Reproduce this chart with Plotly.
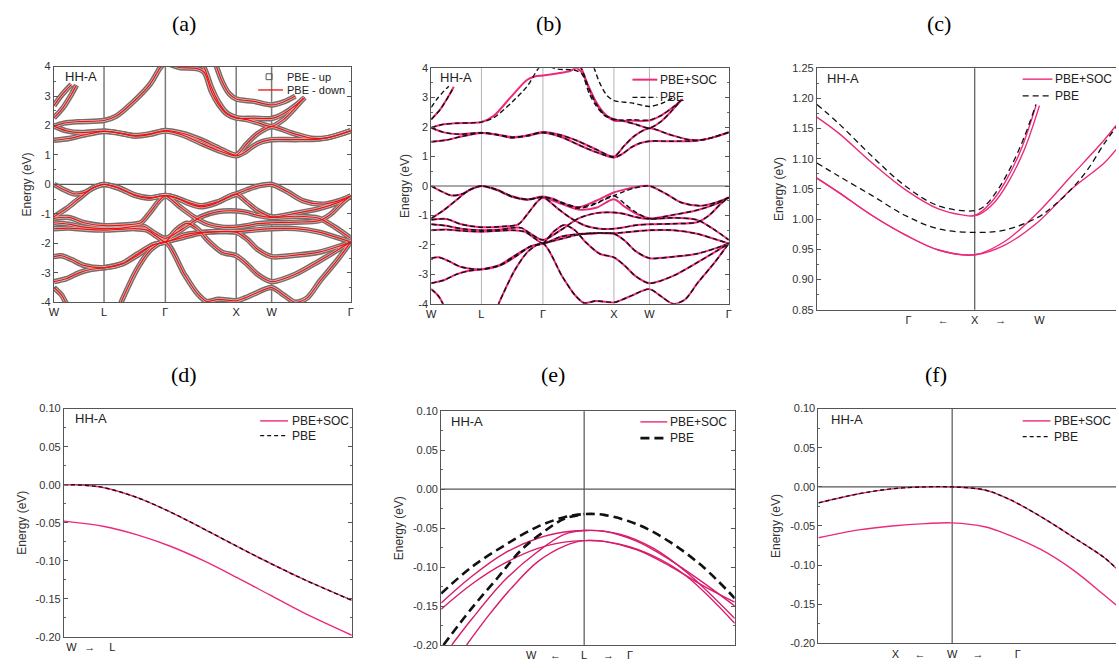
import plotly.graph_objects as go

FIG_W, FIG_H = 1119, 668

# ---------------- data ----------------
# k-path W-L-Γ-X-W-Γ (segment lengths in 2π/a)
seg_len = [0.707, 0.866, 1.0, 0.5, 1.118]
sym_labels = ["W", "L", "Γ", "X", "W", "Γ"]
sym_s = [0, 1, 2, 3, 4, 5]

# bands as (path coordinate s, energy eV); s: W=0, L=1, Γ=2, X=3, W=4, Γ=5
c1 = [(0, 1.50), (0.3, 1.56), (0.6, 1.68), (1, 1.80), (1.25, 1.74), (1.5, 1.64), (1.75, 1.70), (2, 1.81),
      (2.25, 1.67), (2.5, 1.40), (2.75, 1.15), (3, 0.97), (3.25, 1.10), (3.5, 1.32), (3.75, 1.46), (4, 1.52),
      (4.3, 1.52), (4.6, 1.54), (4.8, 1.65), (5, 1.82)]
c2 = [(0, 1.98), (0.25, 1.82), (0.55, 1.76), (1, 1.81), (1.25, 1.75), (1.5, 1.66), (1.75, 1.72), (2, 1.83),
      (2.25, 1.73), (2.5, 1.52), (2.75, 1.24), (3, 1.00), (3.3, 1.38), (3.6, 1.72), (4, 1.96), (4.25, 1.75),
      (4.5, 1.57), (4.7, 1.58), (5, 1.83)]
c3 = [(0, 1.98), (0.2, 2.08), (0.5, 2.13), (1, 2.17), (1.2, 2.32), (1.5, 2.85), (1.75, 3.40), (1.93, 4.0),
      (2, 4.1), (2.2, 3.97), (2.45, 3.93), (2.55, 3.8), (2.65, 3.15), (2.75, 2.72), (2.87, 2.39), (3, 2.25),
      (3.5, 2.25), (4, 2.24), (4.15, 2.4), (4.3, 2.68), (4.42, 2.95)]
c4 = [(2.45, 4.3), (2.55, 3.95), (2.65, 3.3), (2.75, 2.8), (2.87, 2.42), (3, 2.27), (3.3, 2.2), (3.65, 2.08),
      (4, 1.97), (4.15, 2.2), (4.28, 2.55), (4.4, 2.92)]
c5 = [(0, 2.67), (0.11, 2.94), (0.25, 3.22), (0.35, 3.39), (None, None),
      (2.68, 4.3), (2.8, 3.5), (2.9, 3.08), (3, 2.9), (3.5, 2.82), (4, 2.70), (4.15, 2.8), (4.3, 3.0)]
c6 = [(0, 2.26), (0.18, 2.6), (0.35, 3.06), (0.45, 3.37)]

v1 = [(0, 0.0), (0.2, -0.18), (0.4, -0.32), (0.6, -0.28), (0.8, -0.10), (1, 0.0), (1.25, -0.12), (1.5, -0.35),
      (1.75, -0.45), (2, -0.38), (2.15, -0.45), (2.3, -0.62), (2.5, -0.76), (2.7, -0.65), (2.85, -0.48),
      (3, -0.33), (3.3, -0.18), (3.6, -0.06), (4, 0.0), (4.2, -0.25), (4.4, -0.56), (4.65, -0.67),
      (4.85, -0.55), (5, -0.39)]
v2 = [(0, -1.10), (0.25, -0.82), (0.5, -0.48), (0.75, -0.15), (1, 0.0), (1.25, -0.14), (1.5, -0.37),
      (1.75, -0.47), (2, -0.38), (2.2, -0.75), (2.4, -1.10), (2.6, -1.35), (2.8, -1.45), (3, -1.45),
      (3.3, -1.40), (3.6, -1.33), (4, -1.30), (4.3, -1.28), (4.6, -1.23), (4.75, -1.0), (4.9, -0.6), (5, -0.39)]
v3 = [(0, -1.15), (0.3, -1.12), (0.6, -1.30), (1, -1.40), (1.3, -1.38), (1.6, -1.30), (1.75, -0.95),
      (1.9, -0.55), (2, -0.38), (2.2, -0.50), (2.5, -0.72), (2.75, -0.58), (3, -0.33), (3.3, -0.60),
      (3.6, -0.88), (4, -1.10), (4.3, -0.98), (4.6, -0.82), (4.85, -0.60), (5, -0.39)]
v4 = [(0, -1.30), (0.3, -1.35), (0.6, -1.45), (1, -1.50), (1.3, -1.48), (1.5, -1.42), (1.65, -1.42),
      (1.8, -1.62), (2, -1.83), (2.25, -1.50), (2.5, -1.10), (2.75, -0.92), (3, -0.90), (3.3, -0.95),
      (3.6, -1.05), (4, -1.12), (4.3, -1.08), (4.6, -1.15), (4.8, -1.45), (5, -1.83)]
v5 = [(0, -1.50), (0.3, -1.48), (0.6, -1.52), (1, -1.55), (1.3, -1.52), (1.5, -1.50), (1.7, -1.55),
      (1.85, -1.75), (2, -1.95), (2.25, -1.72), (2.5, -1.63), (2.75, -1.60), (3, -1.60), (3.5, -1.55),
      (4, -1.50), (4.3, -1.50), (4.6, -1.62), (4.8, -1.78), (5, -1.95)]
v6 = [(0, -2.45), (0.15, -2.42), (0.35, -2.55), (0.6, -2.75), (1, -2.83), (1.3, -2.70), (1.55, -2.40),
      (1.8, -2.05), (2, -1.95), (2.15, -1.55), (2.3, -1.32), (2.45, -1.50), (2.6, -1.90), (2.8, -2.30),
      (3, -2.42), (3.3, -2.70), (3.6, -3.05), (4, -3.30), (4.3, -3.05), (4.6, -2.60), (4.85, -2.20), (5, -1.95)]
v7 = [(0, -3.30), (0.25, -3.20), (0.5, -3.00), (0.75, -2.88), (1, -2.83), (1.3, -2.68), (1.55, -2.35),
      (1.8, -2.05), (2, -1.95), (2.25, -1.80), (2.5, -1.65), (2.75, -1.60), (3, -1.62), (3.3, -1.85),
      (3.6, -2.20), (4, -2.45), (4.3, -2.40), (4.6, -2.30), (4.85, -2.10), (5, -1.95)]
v8 = [(0, -3.50), (0.15, -3.75), (0.3, -4.2), (0.7, -5.0), (1.0, -5.0), (1.2, -4.4), (1.3, -3.9),
      (1.55, -2.83), (1.77, -2.20), (2, -1.95), (2.27, -3.06), (2.45, -3.70), (2.58, -3.97), (2.75, -3.90),
      (3, -3.95), (3.25, -3.85), (3.5, -3.72), (4, -3.50), (4.15, -3.75), (4.3, -4.0), (4.45, -3.85),
      (4.61, -3.28), (4.82, -2.60), (5, -1.95)]

# PBE+SOC bands that visibly differ from PBE in panel (b)
c3_soc = [(0, 1.98), (0.2, 2.08), (0.5, 2.13), (1, 2.17), (1.2, 2.38), (1.47, 3.0), (1.74, 3.6), (1.87, 3.72),
          (2, 3.75), (2.2, 3.82), (2.38, 3.9), (2.47, 4.0), (2.55, 3.85), (2.63, 3.45), (2.75, 2.85),
          (2.87, 2.45), (3, 2.22), (3.5, 2.22), (4, 2.22), (4.15, 2.4), (4.3, 2.68), (4.42, 2.95)]
v1_soc = [(0, 0.0), (0.2, -0.18), (0.4, -0.32), (0.6, -0.28), (0.8, -0.10), (1, 0.0), (1.25, -0.12),
          (1.5, -0.35), (1.75, -0.45), (2, -0.36), (2.15, -0.44), (2.3, -0.60), (2.5, -0.72), (2.75, -0.50),
          (3, -0.22), (3.3, -0.12), (3.6, -0.04), (4, 0.0), (4.2, -0.25), (4.4, -0.56), (4.65, -0.67),
          (4.85, -0.55), (5, -0.39)]
v3_soc = [(0, -1.15), (0.3, -1.12), (0.6, -1.30), (1, -1.40), (1.3, -1.38), (1.6, -1.30), (1.75, -0.95),
          (1.9, -0.55), (2, -0.40), (2.2, -0.55), (2.5, -0.80), (2.75, -0.74), (3, -0.45), (3.3, -0.70),
          (3.6, -0.92), (4, -1.10), (4.3, -0.98), (4.6, -0.82), (4.85, -0.60), (5, -0.39)]

# panel (c): conduction-band minimum near X (k: X = 0, Γ side negative)
c_pbe_hi_k = [-1.0, -0.86, -0.65, -0.44, -0.23, 0.0, 0.063, 0.147, 0.23, 0.314, 0.388]
c_pbe_hi_E = [1.19, 1.158, 1.104, 1.055, 1.022, 1.014, 1.022, 1.049, 1.087, 1.136, 1.19]
c_pbe_lo_k = [-1.0, -0.86, -0.65, -0.44, -0.23, 0.0, 0.19, 0.40, 0.50, 0.61, 0.715, 0.82, 0.895]
c_pbe_lo_E = [1.093, 1.071, 1.039, 1.006, 0.984, 0.978, 0.982, 1.003, 1.022, 1.049, 1.082, 1.125, 1.152]
c_soc_hi_k = [-1.0, -0.86, -0.65, -0.44, -0.23, -0.08, 0.0, 0.105, 0.19, 0.293, 0.388]
c_soc_hi_E = [1.169, 1.142, 1.093, 1.049, 1.017, 1.007, 1.006, 1.028, 1.06, 1.115, 1.188]
c_soc_hi2_k = [0.0, 0.03, 0.126, 0.21, 0.314, 0.41]
c_soc_hi2_E = [1.006, 1.008, 1.028, 1.06, 1.115, 1.188]
c_soc_lo_k = [-1.0, -0.86, -0.65, -0.44, -0.23, 0.0, 0.19, 0.40, 0.61, 0.82, 0.895]
c_soc_lo_E = [1.068, 1.044, 1.006, 0.974, 0.949, 0.941, 0.963, 1.011, 1.071, 1.131, 1.155]
c_soc_lo2_E = [1.068, 1.044, 1.006, 0.974, 0.949, 0.941, 0.957, 0.995, 1.049, 1.093, 1.115]

# panel (d): W -> L
d_k = [0.0, 0.08, 0.14, 0.255, 0.37, 0.485, 0.657, 0.83, 1.0]
d_top_E = [0.0, -0.001, -0.004, -0.017, -0.036, -0.058, -0.092, -0.124, -0.152]
d_low_k = [0.0, 0.14, 0.255, 0.37, 0.485, 0.6, 0.715, 0.83, 1.0]
d_low_E = [-0.048, -0.055, -0.066, -0.081, -0.100, -0.122, -0.145, -0.168, -0.198]

# panel (e): around L (W side negative, Γ side positive)
e_k = [-1.0, -0.787, -0.556, -0.324, -0.139, 0.0, 0.139, 0.37, 0.602, 0.833, 1.053]
e_pbe_out_E = [-0.134, -0.100, -0.072, -0.048, -0.036, -0.032, -0.033, -0.045, -0.068, -0.100, -0.140]
e_pbe_in_k = [-0.984, -0.787, -0.602, -0.44, -0.278, -0.139, 0.0]
e_pbe_in_E = [-0.200, -0.153, -0.113, -0.078, -0.054, -0.038, -0.032]
e_soc1_E = [-0.146, -0.112, -0.082, -0.063, -0.055, -0.053, -0.054, -0.067, -0.091, -0.120, -0.150]
e_soc2_E = [-0.154, -0.122, -0.095, -0.076, -0.068, -0.066, -0.067, -0.078, -0.099, -0.124, -0.145]
e_soc3_k = [-0.926, -0.787, -0.556, -0.324, -0.139, 0.0, 0.255, 0.486, 0.718, 1.053]
e_soc3_E = [-0.200, -0.167, -0.117, -0.080, -0.058, -0.053, -0.058, -0.076, -0.107, -0.166]
e_soc4_k = [-0.822, -0.672, -0.509, -0.324, -0.139, 0.0, 0.255, 0.486, 0.718, 1.053]
e_soc4_E = [-0.200, -0.163, -0.127, -0.093, -0.073, -0.066, -0.071, -0.086, -0.112, -0.172]

# panel (f): around W (X side negative, Γ side positive)
f_k = [-1.0, -0.698, -0.45, -0.203, 0.0, 0.243, 0.416, 0.663, 0.911, 1.134, 1.225]
f_top_E = [-0.0205, -0.0088, -0.0025, 0.0, 0.0, -0.004, -0.015, -0.038, -0.065, -0.090, -0.104]
f_low_E = [-0.065, -0.055, -0.050, -0.047, -0.046, -0.051, -0.061, -0.080, -0.107, -0.138, -0.151]

# tick labels
big_yticks = [4, 3, 2, 1, 0, -1, -2, -3, -4]
c_yticks = [1.25, 1.20, 1.15, 1.10, 1.05, 1.00, 0.95, 0.90, 0.85]
small_yticks = [0.10, 0.05, 0.00, -0.05, -0.10, -0.15, -0.20]
c_xlabels = ["Γ", "←", "X", "→", "W"]
d_xlabels = ["W", "→", "L"]
e_xlabels = ["W", "←", "L", "→", "Γ"]
f_xlabels = ["X", "←", "W", "→", "Γ"]
c_xpos = [-0.42, -0.2, 0.0, 0.165, 0.41]
d_xpos = [0.026, 0.09, 0.168]
e_xpos = [-0.37, -0.2, 0.0, 0.17, 0.32]
f_xpos = [-0.425, -0.24, 0.0, 0.193, 0.49]

PBE_BANDS = [c1, c2, c3, c4, c5, c6, v1, v2, v3, v4, v5, v6, v7, v8]
SOC_BANDS = [c1, c2, c3_soc, c4, c6, v1_soc, v2, v3_soc, v4, v5, v6, v7, v8]

# ---------------- helpers ----------------
cum = [0.0]
for L_ in seg_len:
    cum.append(cum[-1] + L_)


def s_to_k(s):
    if s is None:
        return None
    i = min(int(s), 4)
    return cum[i] + (s - i) * seg_len[i]


def band_xy(band):
    return [s_to_k(p[0]) for p in band], [p[1] for p in band]


sym_k = [s_to_k(s) for s in sym_s]

PINK = "#ec2a7c"
FONT = "Liberation Sans, Arial, sans-serif"
SERIF = "Liberation Serif, Times New Roman, serif"

rects = {
    "a": (49.3, 61.7, 348.3, 301.7),
    "b": (429.3, 63.3, 729.0, 303.3),
    "c": (817.7, 63.3, 1119.0, 309.3),
    "d": (59.3, 410.0, 349.3, 642.3),
    "e": (439.3, 412.7, 735.0, 650.7),
    "f": (819.3, 410.0, 1119.0, 649.0),
}
axid = {"a": "", "b": "2", "c": "3", "d": "4", "e": "5", "f": "6"}


def px(x):
    return x / FIG_W


def py(y):
    return 1 - y / FIG_H


fig = go.Figure()


def add(name, x, y, panel, **kw):
    fig.add_trace(go.Scatter(x=x, y=y, mode="lines", showlegend=False, hoverinfo="skip",
                             xaxis="x" + axid[panel], yaxis="y" + axid[panel], **kw))


# panel (a): spin up (squares look) + spin down (red)
for b in PBE_BANDS:
    x, y = band_xy(b)
    add("up", x, y, "a", line=dict(color="#7a6a68", width=5.5, shape="spline", smoothing=0.8))
for b in PBE_BANDS:
    x, y = band_xy(b)
    add("up", x, y, "a", line=dict(color="#d6c2bf", width=2.6, shape="spline", smoothing=0.8))
for b in PBE_BANDS:
    x, y = band_xy(b)
    add("down", x, y, "a", line=dict(color="#f01010", width=1.2, shape="spline", smoothing=0.8))

# panel (b)
for b in SOC_BANDS:
    x, y = band_xy(b)
    add("soc", x, y, "b", line=dict(color=PINK, width=2.0, shape="spline", smoothing=0.8))
for b in PBE_BANDS:
    x, y = band_xy(b)
    add("pbe", x, y, "b", line=dict(color="#111111", width=1.4, dash="5px,3px", shape="spline", smoothing=0.8))

# panel (c)
add("soc", c_soc_hi_k, c_soc_hi_E, "c", line=dict(color=PINK, width=1.4, shape="spline"))
add("soc", c_soc_hi2_k, c_soc_hi2_E, "c", line=dict(color=PINK, width=1.4, shape="spline"))
add("soc", c_soc_lo_k, c_soc_lo_E, "c", line=dict(color=PINK, width=1.4, shape="spline"))
add("soc", c_soc_lo_k, c_soc_lo2_E, "c", line=dict(color=PINK, width=1.4, shape="spline"))
add("pbe", c_pbe_hi_k, c_pbe_hi_E, "c", line=dict(color="#111", width=1.3, dash="6px,4px", shape="spline"))
add("pbe", c_pbe_lo_k, c_pbe_lo_E, "c", line=dict(color="#111", width=1.3, dash="6px,4px", shape="spline"))

# panel (d)
add("soc", d_k, d_top_E, "d", line=dict(color=PINK, width=1.4, shape="spline"))
add("soc", d_low_k, d_low_E, "d", line=dict(color=PINK, width=1.4, shape="spline"))
add("pbe", d_k, d_top_E, "d", line=dict(color="#111", width=1.4, dash="4px,3px", shape="spline"))

# panel (e)
add("soc", e_k, e_soc1_E, "e", line=dict(color="#d81b6a", width=1.4, shape="spline"))
add("soc", e_k, e_soc2_E, "e", line=dict(color="#d81b6a", width=1.4, shape="spline"))
add("soc", e_soc3_k, e_soc3_E, "e", line=dict(color="#d81b6a", width=1.4, shape="spline"))
add("soc", e_soc4_k, e_soc4_E, "e", line=dict(color="#d81b6a", width=1.4, shape="spline"))
add("pbe", e_k, e_pbe_out_E, "e", line=dict(color="#111", width=2.6, dash="9px,5px", shape="spline"))
add("pbe", e_pbe_in_k, e_pbe_in_E, "e", line=dict(color="#111", width=2.6, dash="9px,5px", shape="spline"))

# panel (f)
add("soc", f_k, f_top_E, "f", line=dict(color=PINK, width=1.4, shape="spline"))
add("soc", f_k, f_low_E, "f", line=dict(color=PINK, width=1.4, shape="spline"))
add("pbe", f_k, f_top_E, "f", line=dict(color="#111", width=1.4, dash="4px,3px", shape="spline"))

# ---------------- axes ----------------
tickfont = dict(family=FONT, size=11, color="#333")
layout = dict(width=FIG_W, height=FIG_H, margin=dict(l=0, r=0, t=0, b=0),
              paper_bgcolor="white", plot_bgcolor="white", showlegend=False)


def fmt(v, nd):
    return f"{v:.{nd}f}"


def set_axes(p, xr, yr, xt, xl, yt, yl, minor_y, ymirror="ticks"):
    x0, y0, x1, y1 = rects[p]
    a = axid[p]
    layout["xaxis" + a] = dict(domain=[px(x0), min(px(x1), 1.0)], range=xr, anchor="y" + a,
                               tickvals=xt, ticktext=xl, ticks="", showline=True, linecolor="#555",
                               linewidth=1, mirror=True, showgrid=False, zeroline=False,
                               tickfont=dict(family=FONT, size=11, color="#222"), fixedrange=True)
    layout["yaxis" + a] = dict(domain=[py(y1), py(y0)], range=yr, anchor="x" + a,
                               tickvals=yt, ticktext=yl, ticks="inside", ticklen=4, tickcolor="#555",
                               showline=True, linecolor="#555", linewidth=1, mirror=ymirror,
                               showgrid=False, zeroline=False, tickfont=tickfont,
                               minor=dict(tickmode="linear", tick0=0, dtick=minor_y, ticks="inside",
                                          ticklen=2, tickcolor="#666"),
                               title=dict(text="Energy (eV)", font=dict(family=FONT, size=12, color="#333"),
                                          standoff=6), fixedrange=True)


big_lbl = [str(v) for v in big_yticks]
set_axes("a", [0, cum[-1]], [-4, 4], sym_k, sym_labels, big_yticks, big_lbl, 0.5)
set_axes("b", [0, cum[-1]], [-4, 4], sym_k, sym_labels, big_yticks, big_lbl, 0.5)
set_axes("c", [-1.0, 0.895], [0.85, 1.25], c_xpos, c_xlabels, c_yticks,
         [fmt(v, 2) for v in c_yticks], 0.025, ymirror=False)
sm_lbl = [fmt(v, 2).replace("-0.00", "0.00") for v in small_yticks]
set_axes("d", [0, 1], [-0.2, 0.1], d_xpos, d_xlabels, small_yticks, sm_lbl, 0.025)
set_axes("e", [-1.0, 1.053], [-0.2, 0.1], e_xpos, e_xlabels, small_yticks, sm_lbl, 0.025)
set_axes("f", [-1.0, 1.225], [-0.2, 0.1], f_xpos, f_xlabels, small_yticks, sm_lbl, 0.025, ymirror=False)

# ---------------- reference lines ----------------
shapes = []
for p, col, w in (("a", "#7a7a7a", 1.5), ("b", "#b4b4b4", 1.0)):
    a = axid[p]
    for k in sym_k[1:-1]:
        shapes.append(dict(type="line", xref="x" + a, yref="y" + a + " domain", x0=k, x1=k, y0=0, y1=1,
                           line=dict(color=col, width=w), layer="below"))
for p in ("a", "b", "d", "e", "f"):
    a = axid[p]
    shapes.append(dict(type="line", xref="x" + a + " domain", yref="y" + a, x0=0, x1=1, y0=0, y1=0,
                       line=dict(color="#555", width=1.2), layer="below"))
for p in ("c", "e", "f"):
    a = axid[p]
    shapes.append(dict(type="line", xref="x" + a, yref="y" + a + " domain", x0=0, x1=0, y0=0, y1=1,
                       line=dict(color="#555", width=1.2), layer="below"))

annotations = []


def text(x, y, s, size=12, family=FONT, anchor="left", color="#222"):
    annotations.append(dict(x=px(x), y=py(y), xref="paper", yref="paper", text=s, showarrow=False,
                            xanchor=anchor, yanchor="middle", font=dict(family=family, size=size, color=color)))


def legline(x0, x1, y, color, width, dash=None):
    line = dict(color=color, width=width)
    if dash:
        line["dash"] = dash
    shapes.append(dict(type="line", xref="paper", yref="paper", x0=px(x0), x1=px(x1), y0=py(y), y1=py(y),
                       line=line))


# panel letters
for lab, x, y in (("(a)", 180, 18), ("(b)", 548, 18), ("(c)", 941, 18),
                  ("(d)", 180, 375), ("(e)", 552, 375), ("(f)", 938, 375)):
    text(x, y, lab, size=22, family=SERIF, anchor="center", color="#000")

# HH-A labels
for x, y in ((58, 72), (436, 73), (826, 74), (68, 420), (447, 423), (830, 421)):
    text(x, y, "HH-A", size=13, color="#222")

# legends
shapes.append(dict(type="rect", xref="paper", yref="paper", x0=px(263), x1=px(269), y0=py(75), y1=py(69),
                   line=dict(color="#555", width=1)))
text(282, 72, "PBE - up", size=11)
legline(255, 280, 85.5, "#f01010", 1.3)
text(282, 85.5, "PBE - down", size=11)

for (lx0, lx1, ly1, ly2, tx, pw, dd, dw) in ((632, 657, 75, 93, 658, 2.0, "5px,3px", 1.4),
                                              (1025, 1055, 74.5, 91.5, 1056, 1.4, "6px,4px", 1.3),
                                              (257, 285, 422.5, 437.5, 287, 1.4, "4px,3px", 1.4),
                                              (640, 667, 423.5, 440, 668, 1.4, "9px,5px", 2.6),
                                              (1025, 1053, 422.5, 438.5, 1055, 1.4, "4px,3px", 1.4)):
    legline(lx0, lx1, ly1, PINK, pw)
    text(tx, ly1, "PBE+SOC", size=12)
    legline(lx0, lx1, ly2, "#111", dw, dd)
    text(tx, ly2, "PBE", size=12)

layout["shapes"] = shapes
layout["annotations"] = annotations
fig.update_layout(**layout)
fig.write_html("out.html")
